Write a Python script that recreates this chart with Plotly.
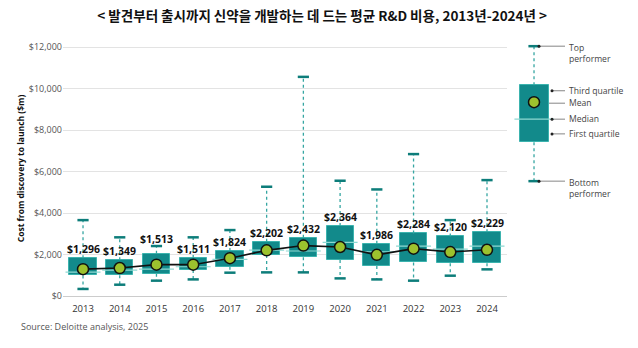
import plotly.graph_objects as go

years = ["2013", "2014", "2015", "2016", "2017", "2018", "2019", "2020", "2021", "2022", "2023", "2024"]
mean_vals = [1296, 1349, 1513, 1511, 1824, 2202, 2432, 2364, 1986, 2284, 2120, 2229]
q1_vals = [990, 1000, 1075, 1250, 1410, 1975, 1865, 1735, 1450, 1620, 1575, 1575]
median_vals = [1150, 1250, 1300, 1410, 1770, 2215, 2170, 2590, 2135, 2410, 2265, 2410]
q3_vals = [1820, 1720, 2040, 1830, 2170, 2620, 2810, 3375, 2520, 3020, 2875, 3070]
top_vals = [3660, 2830, 2410, 2830, 3180, 5270, 10570, 5560, 5140, 6845, 3660, 5590]
bottom_vals = [340, 545, 740, 800, 1125, 1140, 1140, 850, 800, 740, 980, 1285]
y_ticks = [0, 2000, 4000, 6000, 8000, 10000, 12000]

# legend example box (in $m on the same scale)
leg_keys = ["Top\nperformer", "Third quartile", "Mean", "Median", "First quartile", "Bottom\nperformer"]
leg_top, leg_q3, leg_mean, leg_median, leg_q1, leg_bottom = 12050, 10170, 9350, 8530, 7420, 5540

TEAL = "#128a8b"
TEAL_EDGE = "#3bb3ae"
WHISK = "#36a6a2"
CAP = "#0d7d7a"
MED = "#8fd8d2"
DOT = "#9cc22e"

fig = go.Figure()

# boxes
fig.add_trace(go.Bar(x=years, y=[q3 - q1 for q1, q3 in zip(q1_vals, q3_vals)], base=q1_vals,
                     width=0.74, marker=dict(color=TEAL, line=dict(color=TEAL_EDGE, width=1)),
                     hoverinfo="skip", showlegend=False))

# whiskers
wx, wy = [], []
for x, q1, q3, t, b in zip(years, q1_vals, q3_vals, top_vals, bottom_vals):
    wx += [x, x, None, x, x, None]
    wy += [q3, t, None, q1, b, None]
fig.add_trace(go.Scatter(x=wx, y=wy, mode="lines", line=dict(color=WHISK, width=1.3, dash="dot"),
                         hoverinfo="skip", showlegend=False))
# caps
fig.add_trace(go.Scatter(x=years + years, y=top_vals + bottom_vals, mode="markers",
                         marker=dict(symbol="line-ew", size=8, line=dict(color=CAP, width=2.5)),
                         hoverinfo="skip", showlegend=False))
# medians
fig.add_trace(go.Scatter(x=years, y=median_vals, mode="markers",
                         marker=dict(symbol="line-ew", size=25, line=dict(color=MED, width=1.2)),
                         hoverinfo="skip", showlegend=False))
# mean line
fig.add_trace(go.Scatter(x=years, y=mean_vals, mode="lines+markers",
                         line=dict(color="#111111", width=1.6),
                         marker=dict(size=11, color=DOT, line=dict(color="#111111", width=1.5)),
                         hoverinfo="skip", showlegend=False))

for i, (m, q3, t) in enumerate(zip(mean_vals, q3_vals, top_vals)):
    base = t if t - q3 < 500 else q3
    fig.add_annotation(x=i, y=base, xref="x", yref="y", text=f"<b>${m:,}</b>", showarrow=False,
                       yanchor="bottom", yshift=0 if base == q3 else -2,
                       font=dict(family="Open Sans", size=10.5, color="#111111"))

# legend example (on x2/y2)
fig.add_trace(go.Bar(x=[0], y=[leg_q3 - leg_q1], base=[leg_q1], width=29, xaxis="x2", yaxis="y2",
                     marker=dict(color=TEAL, line=dict(color=TEAL_EDGE, width=1)),
                     hoverinfo="skip", showlegend=False))
fig.add_trace(go.Scatter(x=[0, 0, None, 0, 0], y=[leg_q3, leg_top, None, leg_q1, leg_bottom],
                         mode="lines", line=dict(color=WHISK, width=1.3, dash="dot"),
                         xaxis="x2", yaxis="y2", hoverinfo="skip", showlegend=False))
fig.add_trace(go.Scatter(x=[0, 0], y=[leg_top, leg_bottom], mode="markers", xaxis="x2", yaxis="y2",
                         marker=dict(symbol="line-ew", size=8, line=dict(color=CAP, width=2.5)),
                         hoverinfo="skip", showlegend=False))
fig.add_trace(go.Scatter(x=[0], y=[leg_median], mode="markers", xaxis="x2", yaxis="y2",
                         marker=dict(symbol="line-ew", size=28, line=dict(color=MED, width=1.2)),
                         hoverinfo="skip", showlegend=False))
fig.add_trace(go.Scatter(x=[0], y=[leg_mean], mode="markers", xaxis="x2", yaxis="y2",
                         marker=dict(size=11, color=DOT, line=dict(color="#111111", width=1.5)),
                         hoverinfo="skip", showlegend=False))

starts = [5, 18, 0, 18, 18, 5]
conn_y = [leg_top, leg_q3 - 270, leg_mean - 50, leg_median, leg_q1 + 400, leg_bottom]
for s, cy in zip(starts, conn_y):
    fig.add_shape(type="line", xref="x2", yref="y2", x0=s, x1=31, y0=cy, y1=cy,
                  line=dict(color="#666666", width=0.8), layer="below")
    if s != 0:
        fig.add_trace(go.Scatter(x=[s], y=[cy], mode="markers", xaxis="x2", yaxis="y2",
                                 marker=dict(size=3, color="#222222"), hoverinfo="skip", showlegend=False))
for k, ly in zip(leg_keys, conn_y):
    two = "\n" in k
    fig.add_annotation(x=33, y=ly, xref="x2", yref="y2", text=k.replace("\n", "<br>"), showarrow=False,
                       xanchor="left", yanchor="top" if two else "middle",
                       yshift=6 if two else 0, align="left",
                       font=dict(family="Open Sans", size=8.6, color="#444444"))

fig.update_layout(
    width=638, height=348, plot_bgcolor="white", paper_bgcolor="white",
    margin=dict(l=63, r=0, t=41, b=52),
    title=dict(text="<b>< 발견부터 출시까지 신약을 개발하는 데 드는 평균 R&D 비용, 2013년-2024년 ></b>",
               x=0.505, xanchor="center", y=0.952, yanchor="middle",
               font=dict(family="Noto Sans CJK KR", size=13.5, color="#111111")),
    xaxis=dict(type="category", domain=[0, 0.7722], range=[-0.545, 11.545], showgrid=False, showline=True,
               linecolor="#cccccc", linewidth=1, ticks="outside", ticklen=4, tickcolor="white",
               tickfont=dict(family="Open Sans", size=9.5, color="#333333")),
    yaxis=dict(range=[0, 12300], tickvals=y_ticks, ticktext=[f"${v:,}" for v in y_ticks],
               showgrid=True, gridcolor="#e3e3e3", gridwidth=1, zeroline=False,
               tickfont=dict(family="Open Sans", size=9, color="#555555"),
               title=dict(text="<b>Cost from discovery to launch ($m)</b>", standoff=2,
                          font=dict(family="Open Sans", size=8.5, color="#111111"))),
    xaxis2=dict(domain=[0.7722, 1], range=[-27, 104], visible=False, anchor="y2"),
    yaxis2=dict(range=[0, 12300], visible=False, anchor="x2", showgrid=False),
    bargap=0, barmode="overlay",
)
fig.add_annotation(x=-0.077, y=-0.118, xref="paper", yref="paper", text="Source: Deloitte analysis, 2025",
                   showarrow=False, xanchor="left", yanchor="middle",
                   font=dict(family="Open Sans", size=9, color="#555555"))

fig.write_html("out.html")
